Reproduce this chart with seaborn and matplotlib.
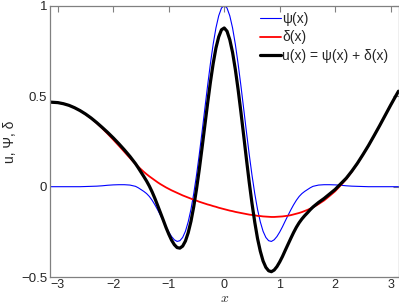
import matplotlib
matplotlib.use('Agg')
import matplotlib.pyplot as plt
import numpy as np
import pandas as pd
import seaborn as sns

# sample positions (finer around the peak)
x_vals = [-3.1416, -3.1, -3.0, -2.9, -2.8, -2.7, -2.6, -2.5, -2.4, -2.3, -2.2, -2.1, -2.0, -1.9, -1.8, -1.7, -1.6,
          -1.55, -1.5, -1.45, -1.4, -1.35, -1.3, -1.25, -1.2, -1.15, -1.1, -1.05, -1.0, -0.95, -0.9, -0.85, -0.8,
          -0.75, -0.7, -0.65, -0.6, -0.55, -0.5, -0.45, -0.4, -0.35, -0.3, -0.25, -0.2, -0.15, -0.1, -0.05,
          0.0,
          0.05, 0.1, 0.15, 0.2, 0.25, 0.3, 0.35, 0.4, 0.45, 0.5, 0.55, 0.6, 0.65, 0.7, 0.75, 0.8,
          0.85, 0.9, 0.95, 1.0, 1.05, 1.1, 1.15, 1.2, 1.25, 1.3, 1.35, 1.4, 1.45, 1.5, 1.55,
          1.6, 1.7, 1.8, 1.9, 2.0, 2.1, 2.2, 2.3, 2.4, 2.5, 2.6, 2.7, 2.8, 2.9, 3.0, 3.1, 3.1416]

# psi(x), thin blue
psi_vals = [0, 0, 0, 0, 0, 0, 0, 0.001, 0.002, 0.003, 0.005, 0.008, 0.010, 0.011, 0.011, 0.009, 0.002,
            -0.006, -0.016, -0.026, -0.038, -0.054, -0.075, -0.100, -0.128, -0.158, -0.189, -0.221, -0.250,
            -0.275, -0.293, -0.302, -0.298, -0.280, -0.246, -0.194, -0.125, -0.038, 0.064, 0.179, 0.303,
            0.431, 0.558, 0.678, 0.786, 0.876, 0.943, 0.986,
            1.0,
            0.986, 0.943, 0.876, 0.786, 0.678, 0.558, 0.431, 0.303, 0.179, 0.064, -0.038, -0.125, -0.194,
            -0.246, -0.280, -0.298, -0.302, -0.293, -0.275, -0.250, -0.221, -0.189, -0.158, -0.128, -0.100,
            -0.075, -0.054, -0.038, -0.026, -0.016, -0.006,
            0.002, 0.009, 0.011, 0.011, 0.010, 0.008, 0.005, 0.003, 0.002, 0.001, 0, 0, 0, 0, 0, 0, 0]

# delta(x), red
delta_vals = [0.467, 0.466, 0.464, 0.458, 0.449, 0.436, 0.420, 0.400, 0.377, 0.351, 0.322, 0.291, 0.259,
              0.226, 0.192, 0.158, 0.125,
              0.110, 0.096, 0.082, 0.069, 0.057, 0.046, 0.035, 0.024, 0.014, 0.005, -0.004, -0.012, -0.020,
              -0.027, -0.034, -0.041, -0.048, -0.054, -0.060, -0.066, -0.072, -0.077, -0.083, -0.088, -0.093,
              -0.098, -0.102, -0.107, -0.111, -0.116, -0.120,
              -0.124,
              -0.128, -0.132, -0.135, -0.139, -0.142, -0.145, -0.148, -0.151, -0.154, -0.156, -0.158, -0.161,
              -0.162, -0.164, -0.165, -0.166, -0.167, -0.167, -0.166, -0.165, -0.164, -0.162, -0.160, -0.157,
              -0.153, -0.149, -0.145, -0.140, -0.134, -0.128, -0.121,
              -0.114, -0.096, -0.076, -0.051, -0.025, 0.008, 0.042, 0.083, 0.127, 0.176, 0.227, 0.281, 0.336,
              0.393, 0.450, 0.505, 0.527]

# u(x), thick black
u_vals = [0.467, 0.466, 0.464, 0.458, 0.449, 0.436, 0.420, 0.401, 0.379, 0.354, 0.327, 0.299, 0.269, 0.237,
          0.203, 0.167, 0.127,
          0.104, 0.080, 0.056, 0.031, 0.003, -0.029, -0.065, -0.104, -0.144, -0.184, -0.225, -0.262, -0.295,
          -0.320, -0.336, -0.339, -0.328, -0.300, -0.254, -0.191, -0.110, -0.013, 0.096, 0.215, 0.338, 0.460,
          0.576, 0.679, 0.765, 0.827, 0.866,
          0.876,
          0.858, 0.811, 0.741, 0.647, 0.536, 0.413, 0.283, 0.152, 0.025, -0.092, -0.196, -0.286, -0.356,
          -0.410, -0.445, -0.464, -0.469, -0.460, -0.441, -0.415, -0.385, -0.351, -0.318, -0.285, -0.253,
          -0.224, -0.199, -0.178, -0.160, -0.144, -0.127,
          -0.112, -0.087, -0.065, -0.040, -0.015, 0.016, 0.047, 0.086, 0.129, 0.177, 0.227, 0.281, 0.336,
          0.393, 0.450, 0.505, 0.527]

x_ticks = [-3, -2, -1, 0, 1, 2, 3]
x_ticklabels = ['\u22123', '\u22122', '\u22121', '0', '1', '2', '3']
y_ticks = [-0.5, 0, 0.5, 1]
y_ticklabels = ['\u22120.5', '0', '0.5', '1']

df = pd.DataFrame({'x': x_vals, 'psi': psi_vals, 'delta': delta_vals, 'u': u_vals})

sns.set_style('white')
plt.rcParams['font.family'] = ['Liberation Sans', 'DejaVu Sans']
plt.rcParams['mathtext.fontset'] = 'cm'

fig = plt.figure(figsize=(3.99, 3.05), dpi=100)
ax = fig.add_axes([50 / 399, (305 - 277.3) / 305, 348.5 / 399, 271.8 / 305])

sns.lineplot(data=df, x='x', y='psi', color='#0000ff', lw=0.8, label='\u03c8(x)', ax=ax, sort=False)
sns.lineplot(data=df, x='x', y='delta', color='#ff0000', lw=1.3, label='\u03b4(x)', ax=ax, sort=False)
sns.lineplot(data=df, x='x', y='u', color='black', lw=2.3,
             label='u(x) = \u03c8(x) + \u03b4(x)', ax=ax, sort=False)

ax.set_xlim(-np.pi, np.pi)
ax.set_ylim(-0.5, 1)
ax.set_xticks(x_ticks)
ax.set_xticklabels(x_ticklabels)
ax.set_yticks(y_ticks)
ax.set_yticklabels(y_ticklabels)
ax.tick_params(direction='in', top=True, right=True, color='#808080', length=4, width=0.8,
               labelsize=9.5)
ax.tick_params(axis='x', pad=1, labelsize=9)
ax.tick_params(axis='y', pad=2)
for sp in ax.spines.values():
    sp.set_color('#808080')
    sp.set_linewidth(0.9)

ax.set_xlabel(r'$x$', fontsize=10)
ax.xaxis.set_label_coords(0.5, -(304.5 - 277.3) / 271.8)
ax.xaxis.label.set_va('bottom')
ax.set_ylabel('u, \u03a8, \u03b4', fontsize=10, labelpad=3)

ax.legend(loc='upper left', bbox_to_anchor=(0.603, 0.975), frameon=False, fontsize=10,
          handlelength=1.5, handletextpad=0.1, labelspacing=0.3, borderpad=0, borderaxespad=0)

fig.savefig('out.png', dpi=100)
